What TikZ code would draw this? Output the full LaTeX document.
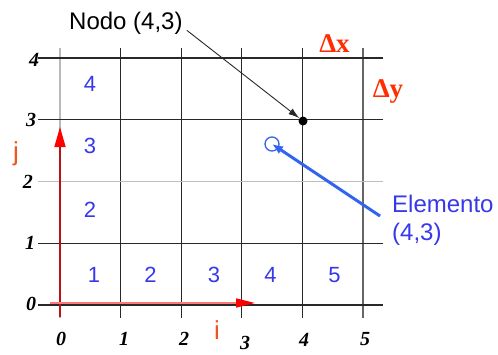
\documentclass[tikz,border=0pt]{standalone}
\usepackage{fontspec}
\setmainfont{Liberation Sans}
\newfontfamily\serifnum{Liberation Serif}
\usetikzlibrary{arrows.meta}
\definecolor{cellblue}{RGB}{55,55,235}
\definecolor{lineblue}{RGB}{50,100,240}
\definecolor{deltared}{RGB}{255,45,0}
\definecolor{ijorange}{RGB}{240,85,30}
\definecolor{darkred}{RGB}{185,20,20}
\definecolor{lightred}{RGB}{255,120,120}
\definecolor{gridgray}{RGB}{40,40,40}
\tikzset{
  gridline/.style={draw=gridgray, line width=1.2pt},
  cellnum/.style={text=cellblue, inner sep=0pt, font=\fontsize{22}{24}\selectfont},
  axnum/.style={inner sep=0pt, font=\serifnum\bfseries\itshape\fontsize{20}{22}\selectfont},
  deltalbl/.style={text=deltared, inner sep=0pt, anchor=base, font=\serifnum\bfseries\fontsize{27}{28}\selectfont},
  ijlbl/.style={text=ijorange, inner sep=0pt, font=\fontsize{26}{28}\selectfont},
  bluelbl/.style={text=cellblue, inner sep=0pt, anchor=base west, font=\fontsize{24}{26}\selectfont}
}
\begin{document}
\begin{tikzpicture}[x=1pt,y=-1pt]
\useasboundingbox (0,0) rectangle (498,354);
% grid: vertical lines
\draw[gridline, draw=gray!55] (60,48) -- (60,318);
\foreach \i in {1,2,3,4} \draw[gridline] (60+60.6*\i,48) -- (60+60.6*\i,318);
\draw[gridline, draw=gray!80!black] (363,48) -- (363,318);
% horizontal lines
\foreach \j in {0,1,3,4} \draw[gridline] (38,305-61.75*\j) -- (383,305-61.75*\j);
\draw[gridline, draw=gray!50] (38,181.5) -- (383,181.5);
% axis numbers left
\node[axnum] (l4) at (34,60) {4};
\node[axnum] (l3) at (31,120) {3};
\node[axnum] (l2) at (28,182) {2};
\node[axnum] (l1) at (30,243) {1};
\node[axnum] (l0) at (31,304) {0};
% axis numbers bottom
\node[axnum] (b0) at (61,339) {0};
\node[axnum] (b1) at (124,339) {1};
\node[axnum] (b2) at (184,339) {2};
\node[axnum] (b3) at (245,343) {3};
\node[axnum] (b4) at (304,340) {4};
\node[axnum] (b5) at (365,339) {5};
% cell numbers
\node[cellnum] (c1) at (94,275) {1};
\node[cellnum] (c2) at (150.5,275) {2};
\node[cellnum] (c3) at (214,275) {3};
\node[cellnum] (c4) at (270.5,275) {4};
\node[cellnum] (c5) at (334.5,275) {5};
\node[cellnum] (r2) at (90,209.5) {2};
\node[cellnum] (r3) at (90,146) {3};
\node[cellnum] (r4) at (90,84) {4};
% j and i axes
\coordinate (jtail) at (60,317);
\coordinate (jtip) at (60,127);
\draw[darkred, line width=1.6pt, -{Triangle[length=20pt,width=11pt,color=red]}] (jtail) -- (jtip);
\coordinate (itail) at (50,303);
\coordinate (itip) at (255,303);
\draw[lightred, line width=1.6pt, -{Triangle[length=19pt,width=9pt,color=red]}] (itail) -- (itip);
\node[ijlbl] (jl) at (16,154) {j};
\node[ijlbl] (il) at (217,330) {i};
% deltas
\node[deltalbl] (dx) at (334.5,52) {Δx};
\node[deltalbl] (dy) at (388,97) {Δy};
% node (4,3)
\node[inner sep=0pt, anchor=base west, font=\fontsize{24}{26}\selectfont] (nodo) at (69,29.3) {Nodo (4,3)};
\node[circle, fill=black, inner sep=0pt, minimum size=9pt] (dot) at (303,121) {};
\draw[gridgray, line width=0.9pt, -{Latex[length=11pt,width=7pt]}] ([shift={(4pt,-1pt)}]nodo.base east) -- (dot);
% element (4,3)
\node[circle, draw=lineblue, line width=1.3pt, minimum size=14pt, inner sep=0pt] (elem) at (272,144) {};
\coordinate (etail) at (380,216);
\draw[lineblue, line width=3pt, -{Latex[length=11pt,width=9pt]}] (etail) -- (elem.center);
\node[bluelbl] (el1) at (392,212) {Elemento};
\node[bluelbl] (el2) at (392,240) {(4,3)};
\end{tikzpicture}
\end{document}
